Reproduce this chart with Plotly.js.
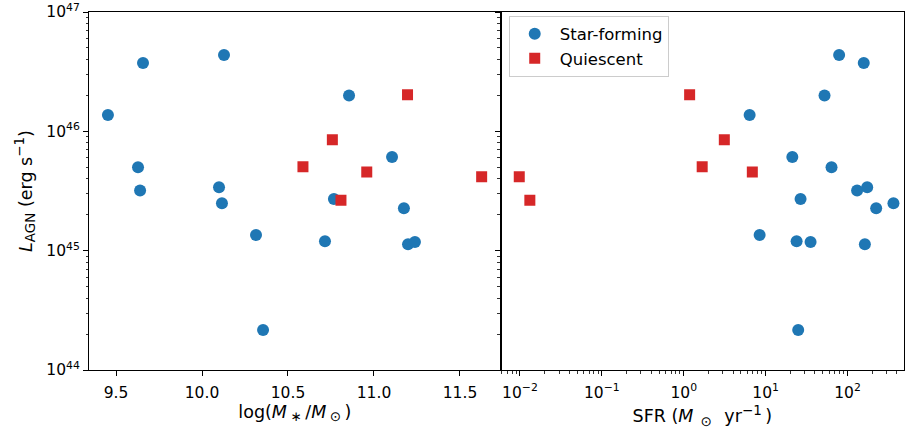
<!DOCTYPE html>
<html><head><meta charset="utf-8">
<script src="https://cdn.plot.ly/plotly-3.0.1.min.js"></script>
<style>body{margin:0;background:#fff}#plot{width:905px;height:432px}</style>
</head><body><div id="plot"></div>
<script>
// Star-forming galaxies
const sfMass = [9.453, 9.657, 10.128, 9.628, 9.640, 10.099, 10.116, 10.314, 10.355, 10.855, 11.105, 10.767, 10.715, 11.174, 11.198, 11.238];
const sfSFR  = [6.38, 158, 79, 63.8, 131, 174, 364, 8.45, 25.0, 52.4, 21.2, 26.7, 23.9, 224, 163, 35.4];
const sfLAGN = [1.37e46, 3.74e46, 4.36e46, 5.0e45, 3.2e45, 3.4e45, 2.5e45, 1.35e45, 2.16e44, 2.0e46, 6.1e45, 2.71e45, 1.2e45, 2.27e45, 1.13e45, 1.18e45];
// Quiescent galaxies
const qMass = [11.195, 10.758, 10.587, 10.958, 10.808, 11.626];
const qSFR  = [1.18, 3.13, 1.68, 6.88, 0.0132, 0.0098];
const qLAGN = [2.03e46, 8.5e45, 5.05e45, 4.56e45, 2.65e45, 4.17e45];
// Tick labels
const xTickVals = [9.5, 10.0, 10.5, 11.0, 11.5];
const xTickText = ['9.5', '10.0', '10.5', '11.0', '11.5'];
const yTickVals = [1e44, 1e45, 1e46, 1e47];
const yTickText = ['10<sup>44</sup>', '10<sup>45</sup>', '10<sup>46</sup>', '10<sup>47</sup>'];
const x2TickVals = [0.01, 0.1, 1, 10, 100];
const x2TickText = ['10<sup>−2</sup>', '10<sup>−1</sup>', '10<sup>0</sup>', '10<sup>1</sup>', '10<sup>2</sup>'];

function minorLog(d0, d1) {
  const out = [];
  for (let d = d0; d <= d1; d++) for (let m = 2; m <= 9; m++) out.push(m * Math.pow(10, d));
  return out;
}
const yMinor = minorLog(44, 46);
const x2Minor = minorLog(-3, 2);

const blue = '#1f77b4', red = '#d62728';
const tickFont = {family: 'DejaVu Sans', size: 15.5, color: '#000'};
const titleFont = {family: 'DejaVu Sans', size: 17.5, color: '#000'};
const sm = t => '<span style="font-size:13.5px">' + t + '</span>';
const th = '\u2009';

const traces = [
  {x: sfMass, y: sfLAGN, type: 'scatter', mode: 'markers', name: 'Star-forming', xaxis: 'x', yaxis: 'y',
   marker: {color: blue, size: 12, symbol: 'circle'}, legendgroup: 'sf', showlegend: false},
  {x: qMass, y: qLAGN, type: 'scatter', mode: 'markers', name: 'Quiescent', xaxis: 'x', yaxis: 'y',
   marker: {color: red, size: 11, symbol: 'square'}, legendgroup: 'q', showlegend: false},
  {x: sfSFR, y: sfLAGN, type: 'scatter', mode: 'markers', name: 'Star-forming', xaxis: 'x2', yaxis: 'y2',
   marker: {color: blue, size: 12, symbol: 'circle'}, legendgroup: 'sf'},
  {x: qSFR, y: qLAGN, type: 'scatter', mode: 'markers', name: 'Quiescent', xaxis: 'x2', yaxis: 'y2',
   marker: {color: red, size: 11, symbol: 'square'}, legendgroup: 'q'}
];

const axBase = {showline: true, linecolor: '#000', linewidth: 1, mirror: true, ticks: 'outside',
  ticklen: 5, tickwidth: 1, tickcolor: '#000', showgrid: false, zeroline: false, tickfont: tickFont};
const minorSpec = vals => ({tickmode: 'array', tickvals: vals, ticks: 'outside', ticklen: 2.5, tickwidth: 0.8, tickcolor: '#000', showgrid: false});

const layout = {
  width: 905, height: 432,
  margin: {l: 89, r: 1, t: 12, b: 62},
  paper_bgcolor: '#fff', plot_bgcolor: '#fff',
  font: tickFont,
  xaxis: Object.assign({}, axBase, {domain: [0, 0.5052], range: [9.343, 11.737],
    tickmode: 'array', tickvals: xTickVals, ticktext: xTickText, ticklabelstandoff: 3,
    title: {text: 'log(<i>M</i>' + th + '<sub>' + sm('∗') + '</sub>' + th + '/<i>M</i>' + th + '<sub>' + sm('⊙') + '</sub>' + th + ')', font: titleFont, standoff: 4}}),
  yaxis: Object.assign({}, axBase, {type: 'log', range: [44, 47], tickmode: 'array', tickvals: yTickVals, ticktext: yTickText,
    minor: minorSpec(yMinor),
    title: {text: '<i>L</i><sub>' + sm('AGN') + '</sub> (erg s<sup>' + sm('−1') + '</sup>)', font: titleFont, standoff: 9}}),
  xaxis2: Object.assign({}, axBase, {domain: [0.5052, 1], type: 'log', anchor: 'y2', range: [-2.235, 2.69],
    tickmode: 'array', tickvals: x2TickVals, ticktext: x2TickText, ticklabelstandoff: 3,
    minor: minorSpec(x2Minor),
    title: {text: 'SFR (<i>M</i>' + th + th + '<sub>' + sm('⊙') + '</sub>' + th + th + ' yr<sup>' + sm('−1') + '</sup>' + th + ')', font: titleFont, standoff: 4}}),
  yaxis2: Object.assign({}, axBase, {type: 'log', anchor: 'x2', range: [44, 47], matches: 'y',
    tickmode: 'array', tickvals: yTickVals, showticklabels: false,
    minor: minorSpec(yMinor)}),
  showlegend: true,
  legend: {x: 0.515, y: 0.99, xanchor: 'left', yanchor: 'top', bgcolor: 'rgba(255,255,255,0.8)',
    bordercolor: '#cccccc', borderwidth: 1, font: {family: 'DejaVu Sans', size: 16.5, color: '#000'},
    tracegroupgap: 0, itemwidth: 40}
};

Plotly.newPlot('plot', traces, layout, {displayModeBar: false, staticPlot: true});
</script></body></html>
